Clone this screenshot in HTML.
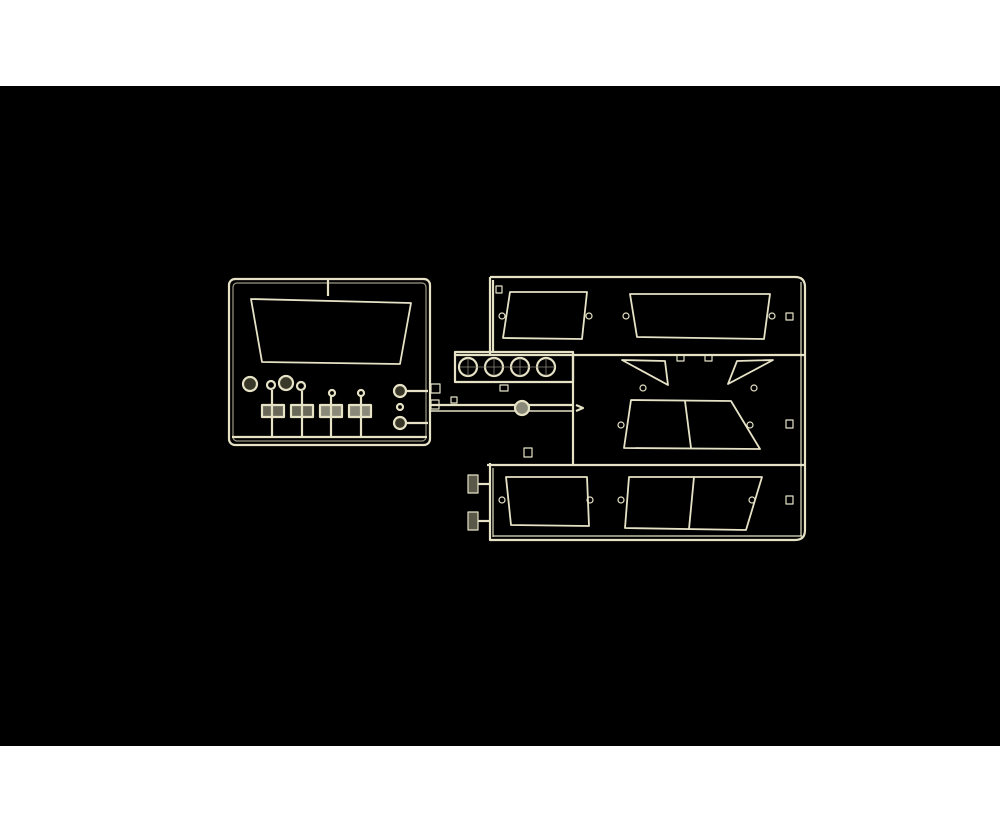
<!DOCTYPE html>
<html><head><meta charset="utf-8"><style>
html,body{margin:0;padding:0;background:#fff;width:1000px;height:833px;overflow:hidden}
#bg{position:absolute;left:0;top:86px;width:1000px;height:660px;background:#000}
svg{position:absolute;left:0;top:0}
</style></head><body>
<div id="bg"></div>
<svg width="1000" height="833" viewBox="0 0 1000 833">
<g fill="none" stroke="#e6e2c6" stroke-width="2.2" stroke-linejoin="round">
<!-- left frame -->
<rect x="229" y="279" width="201" height="166" rx="6"/>
<rect x="233" y="283" width="193" height="158" rx="4" stroke-width="1.2" stroke="#9c9a86"/>
<line x1="232" y1="437" x2="427" y2="437"/>
<line x1="328" y1="280" x2="328" y2="296"/>
<path d="M251 299 L411 303 L400 364 L262 362 Z" stroke-width="1.8"/>
<!-- small parts left -->
<circle cx="250" cy="384" r="7" fill="#3a3828"/><circle cx="286" cy="383" r="7" fill="#3a3828"/>
<circle cx="271" cy="385" r="4"/><circle cx="301" cy="386" r="4"/><circle cx="332" cy="393" r="3"/><circle cx="361" cy="393" r="3"/>
<rect x="262" y="405" width="22" height="12" fill="#6a6858"/><rect x="291" y="405" width="22" height="12" fill="#6a6858"/>
<rect x="320" y="405" width="22" height="12" fill="#8a8878"/><rect x="349" y="405" width="22" height="12" fill="#8a8878"/>
<line x1="272" y1="390" x2="272" y2="437"/><line x1="302" y1="391" x2="302" y2="437"/><line x1="331" y1="396" x2="331" y2="437"/><line x1="361" y1="396" x2="361" y2="437"/>
<circle cx="400" cy="391" r="6" fill="#3a3828"/><circle cx="400" cy="423" r="6" fill="#3a3828"/><circle cx="400" cy="407" r="3"/>
<line x1="406" y1="391" x2="428" y2="391"/><line x1="406" y1="423" x2="428" y2="423"/>
<rect x="431" y="384" width="9" height="9" stroke-width="1.2"/><rect x="431" y="400" width="8" height="9" stroke-width="1.2"/>
<!-- connector -->
<line x1="430" y1="405" x2="573" y2="405"/><line x1="430" y1="411" x2="573" y2="411" stroke-width="1.4"/>
<circle cx="522" cy="408" r="7" fill="#8a8878"/>
<rect x="451" y="397" width="6" height="6" stroke-width="1.2"/>
<path d="M576 405 L583 408 L576 411"/>
<!-- right frame -->
<path d="M490 277 L795 277 Q805 277 805 287 L805 530 Q805 540 795 540 L490 540 L490 463"/>
<path d="M493 280 L493 352" />
<line x1="490" y1="277" x2="490" y2="355"/>
<line x1="455" y1="355" x2="805" y2="355"/>
<line x1="573" y1="355" x2="573" y2="465"/>
<line x1="487" y1="465" x2="805" y2="465"/>
<line x1="493" y1="468" x2="493" y2="537" stroke-width="1.2"/>
<line x1="493" y1="536" x2="802" y2="536" stroke-width="1.2"/>
<line x1="801" y1="282" x2="801" y2="536" stroke-width="1.2"/>
<rect x="455" y="352" width="118" height="30"/>
<circle cx="468" cy="367" r="9"/><circle cx="494" cy="367" r="9"/><circle cx="520" cy="367" r="9"/><circle cx="546" cy="367" r="9"/>
<g stroke-width="0.8" stroke="#8a8878">
<line x1="460" y1="367" x2="555" y2="367"/><line x1="468" y1="358" x2="468" y2="376"/><line x1="494" y1="358" x2="494" y2="376"/><line x1="520" y1="358" x2="520" y2="376"/><line x1="546" y1="358" x2="546" y2="376"/>
</g>
<rect x="500" y="385" width="8" height="6" stroke-width="1.2"/>
<!-- panels -->
<g stroke-width="1.8">
<path d="M510 292 L587 292 L582 339 L503 338 Z"/>
<path d="M630 294 L770 294 L764 339 L637 337 Z"/>
<path d="M622 360 L665 361 L668 385 Z"/>
<path d="M728 384 L737 361 L773 360 Z"/>
<path d="M631 400 L731 401 L760 449 L624 448 Z"/>
<line x1="685" y1="401" x2="691" y2="448"/>
<path d="M506 477 L587 477 L589 526 L511 525 Z"/>
<path d="M629 477 L762 477 L746 530 L625 528 Z"/>
<line x1="694" y1="477" x2="689" y2="529"/>
</g>
<g stroke-width="1.2">
<circle cx="502" cy="316" r="3"/><circle cx="589" cy="316" r="3"/><circle cx="626" cy="316" r="3"/><circle cx="772" cy="316" r="3"/>
<circle cx="643" cy="388" r="3"/><circle cx="754" cy="388" r="3"/>
<circle cx="621" cy="425" r="3"/><circle cx="750" cy="425" r="3"/>
<circle cx="502" cy="500" r="3"/><circle cx="590" cy="500" r="3"/><circle cx="621" cy="500" r="3"/><circle cx="752" cy="500" r="3"/>
<rect x="786" y="313" width="7" height="7"/><rect x="786" y="420" width="7" height="8"/><rect x="786" y="496" width="7" height="8"/>
<rect x="677" y="355" width="7" height="6"/><rect x="705" y="355" width="7" height="6"/>
<rect x="524" y="448" width="8" height="9"/><rect x="496" y="286" width="6" height="7"/>
</g>
<rect x="468" y="475" width="10" height="18" fill="#5a5848" stroke-width="1.2"/>
<rect x="468" y="512" width="10" height="18" fill="#5a5848" stroke-width="1.2"/>
<line x1="478" y1="484" x2="490" y2="484"/><line x1="478" y1="521" x2="490" y2="521"/>
</g>
</svg>
</body></html>
